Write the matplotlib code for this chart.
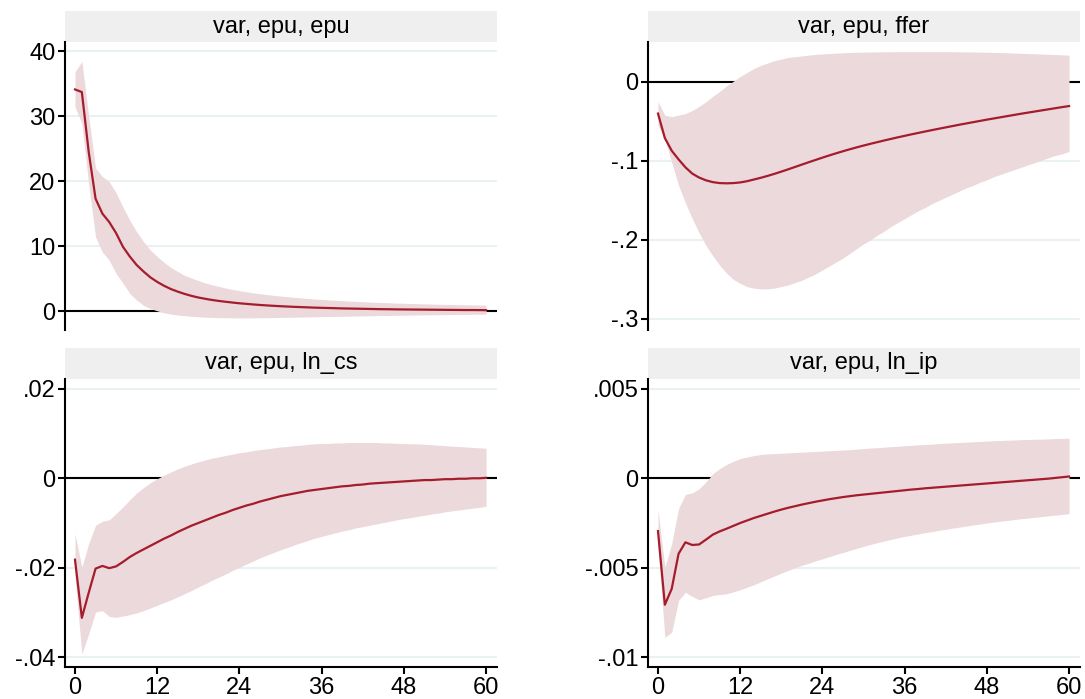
import matplotlib
matplotlib.use("Agg")
import matplotlib.pyplot as plt
import numpy as np

plt.rcParams['font.family'] = ['Liberation Sans', 'DejaVu Sans']

steps = np.arange(61)

# var, epu, epu
epu_irf = [34.1, 33.7, 24.5, 17.3, 15.0, 13.7, 12.0, 9.9, 8.4, 7.1,
           6.1, 5.2, 4.5, 3.9, 3.4, 3.0, 2.65, 2.35, 2.1, 1.9,
           1.72, 1.57, 1.44, 1.32, 1.21, 1.12, 1.03, 0.95, 0.88, 0.82,
           0.76, 0.71, 0.66, 0.62, 0.58, 0.54, 0.51, 0.48, 0.45, 0.42,
           0.40, 0.38, 0.36, 0.34, 0.32, 0.30, 0.29, 0.27, 0.26, 0.25,
           0.24, 0.23, 0.22, 0.21, 0.20, 0.19, 0.18, 0.17, 0.17, 0.16, 0.15]
epu_hi = [36.8, 38.4, 30.0, 22.0, 20.7, 19.9, 18.2, 16.0, 14.0, 12.2,
          10.7, 9.4, 8.4, 7.5, 6.7, 6.1, 5.5, 5.1, 4.7, 4.35,
          4.05, 3.8, 3.55, 3.35, 3.15, 2.98, 2.82, 2.68, 2.55, 2.43,
          2.32, 2.22, 2.12, 2.03, 1.95, 1.87, 1.80, 1.73, 1.67, 1.61,
          1.55, 1.50, 1.45, 1.40, 1.36, 1.32, 1.28, 1.24, 1.21, 1.18,
          1.15, 1.12, 1.09, 1.07, 1.04, 1.02, 1.00, 0.98, 0.96, 0.94, 0.92]
epu_lo = [31.4, 28.9, 19.5, 11.4, 9.1, 7.8, 5.8, 4.3, 2.7, 1.7,
          0.9, 0.4, 0.05, -0.25, -0.45, -0.6, -0.7, -0.8, -0.87, -0.93,
          -0.97, -1.0, -1.02, -1.03, -1.04, -1.04, -1.03, -1.02, -1.01, -0.99,
          -0.97, -0.95, -0.93, -0.91, -0.89, -0.87, -0.85, -0.83, -0.81, -0.79,
          -0.77, -0.75, -0.73, -0.71, -0.69, -0.67, -0.66, -0.64, -0.62, -0.61,
          -0.59, -0.58, -0.56, -0.55, -0.54, -0.52, -0.51, -0.50, -0.49, -0.48, -0.47]

# var, epu, ffer
ffer_irf = [-0.040, -0.071, -0.087, -0.098, -0.108, -0.116, -0.121, -0.1245, -0.1268, -0.1280,
            -0.1283, -0.1280, -0.1272, -0.1256, -0.1235, -0.1213, -0.1189, -0.1163, -0.1135, -0.1106,
            -0.1076, -0.1046, -0.1016, -0.0987, -0.0958, -0.0930, -0.0903, -0.0877, -0.0852, -0.0828,
            -0.0805, -0.0783, -0.0762, -0.0741, -0.0721, -0.0701, -0.0682, -0.0663, -0.0645, -0.0627,
            -0.0609, -0.0592, -0.0575, -0.0558, -0.0541, -0.0525, -0.0509, -0.0493, -0.0477, -0.0462,
            -0.0447, -0.0432, -0.0417, -0.0402, -0.0388, -0.0374, -0.0360, -0.0346, -0.0332, -0.0318, -0.0305]
ffer_hi = [-0.025, -0.042, -0.044, -0.042, -0.040, -0.036, -0.031, -0.025, -0.018, -0.012,
           -0.005, 0.001, 0.007, 0.012, 0.017, 0.021, 0.024, 0.027, 0.029, 0.031,
           0.032, 0.033, 0.034, 0.035, 0.0355, 0.036, 0.0365, 0.037, 0.0373, 0.0376,
           0.0378, 0.0380, 0.0381, 0.0382, 0.0383, 0.0383, 0.0384, 0.0384, 0.0384, 0.0384,
           0.0384, 0.0384, 0.0384, 0.0383, 0.0382, 0.0381, 0.0380, 0.0378, 0.0376, 0.0374,
           0.0372, 0.0369, 0.0366, 0.0363, 0.0360, 0.0357, 0.0354, 0.0350, 0.0347, 0.0343, 0.0340]
ffer_lo = [-0.055, -0.072, -0.102, -0.131, -0.153, -0.173, -0.191, -0.207, -0.220, -0.232,
           -0.242, -0.250, -0.255, -0.259, -0.261, -0.262, -0.262, -0.261, -0.259, -0.257,
           -0.254, -0.251, -0.247, -0.243, -0.238, -0.233, -0.228, -0.223, -0.217, -0.211,
           -0.205, -0.200, -0.194, -0.189, -0.183, -0.178, -0.173, -0.168, -0.163, -0.159,
           -0.154, -0.150, -0.146, -0.142, -0.138, -0.134, -0.131, -0.127, -0.124, -0.120,
           -0.117, -0.114, -0.111, -0.108, -0.105, -0.102, -0.099, -0.096, -0.093, -0.091, -0.088]

# var, epu, ln_cs
cs_irf = [-0.0182, -0.0312, -0.0256, -0.0202, -0.0196, -0.0201, -0.0197, -0.0187, -0.0176, -0.0167,
          -0.0159, -0.0151, -0.0143, -0.0135, -0.0128, -0.0120, -0.0113, -0.0106, -0.0100, -0.0094,
          -0.0088, -0.0082, -0.0077, -0.0071, -0.0066, -0.0061, -0.0057, -0.0052, -0.0048, -0.0044,
          -0.0040, -0.0037, -0.0034, -0.0031, -0.0028, -0.0026, -0.0024, -0.0022, -0.0020, -0.0018,
          -0.0017, -0.0015, -0.0014, -0.0012, -0.0011, -0.0010, -0.0009, -0.0008, -0.0007, -0.0006,
          -0.0005, -0.0004, -0.0004, -0.0003, -0.0002, -0.0002, -0.0001, -0.0001, 0.0000, 0.0000, 0.0001]
cs_hi = [-0.0124, -0.0199, -0.0146, -0.0105, -0.0096, -0.0093, -0.0079, -0.0064, -0.0048, -0.0033,
         -0.0021, -0.0010, -0.0001, 0.0007, 0.0014, 0.0021, 0.0027, 0.0032, 0.0037, 0.0041,
         0.0045, 0.0048, 0.0051, 0.0054, 0.0057, 0.0059, 0.0062, 0.0064, 0.0066, 0.0068,
         0.0070, 0.0071, 0.0073, 0.0074, 0.0076, 0.0077, 0.0078, 0.0078, 0.0079, 0.0079,
         0.0080, 0.0080, 0.0080, 0.0080, 0.0080, 0.0079, 0.0079, 0.0078, 0.0078, 0.0077,
         0.0077, 0.0076, 0.0075, 0.0074, 0.0073, 0.0072, 0.0071, 0.0070, 0.0069, 0.0068, 0.0067]
cs_lo = [-0.0221, -0.0393, -0.0348, -0.0299, -0.0296, -0.0309, -0.0311, -0.0308, -0.0305, -0.0301,
         -0.0296, -0.0290, -0.0284, -0.0278, -0.0272, -0.0265, -0.0258, -0.0251, -0.0243, -0.0236,
         -0.0228, -0.0221, -0.0214, -0.0206, -0.0199, -0.0192, -0.0185, -0.0178, -0.0172, -0.0166,
         -0.0160, -0.0155, -0.0149, -0.0144, -0.0139, -0.0134, -0.0130, -0.0126, -0.0122, -0.0118,
         -0.0115, -0.0111, -0.0108, -0.0105, -0.0102, -0.0099, -0.0096, -0.0093, -0.0090, -0.0088,
         -0.0085, -0.0083, -0.0080, -0.0078, -0.0075, -0.0073, -0.0071, -0.0069, -0.0067, -0.0065, -0.0063]

# var, epu, ln_ip
ip_irf = [-0.00295, -0.00707, -0.00618, -0.00422, -0.00358, -0.00373, -0.00370, -0.00343, -0.00315, -0.00297,
          -0.00282, -0.00266, -0.00250, -0.00236, -0.00222, -0.00210, -0.00198, -0.00186, -0.00175, -0.00165,
          -0.00156, -0.00147, -0.00139, -0.00131, -0.00124, -0.00117, -0.00111, -0.00105, -0.00100, -0.00095,
          -0.00091, -0.00087, -0.00083, -0.00079, -0.00075, -0.00071, -0.00067, -0.00063, -0.00060, -0.00056,
          -0.00053, -0.00050, -0.00047, -0.00044, -0.00041, -0.00038, -0.00035, -0.00032, -0.00029, -0.00026,
          -0.00023, -0.00020, -0.00017, -0.00014, -0.00011, -0.00008, -0.00005, -0.00002, 0.00002, 0.00006, 0.00010]
ip_hi = [-0.00175, -0.00497, -0.00366, -0.00170, -0.00090, -0.00082, -0.00058, -0.00021, 0.00026, 0.00054,
         0.00077, 0.00095, 0.00110, 0.00119, 0.00127, 0.00133, 0.00136, 0.00138, 0.00140, 0.00142,
         0.00144, 0.00146, 0.00148, 0.00150, 0.00152, 0.00154, 0.00156, 0.00158, 0.00160, 0.00163,
         0.00166, 0.00169, 0.00171, 0.00174, 0.00177, 0.00179, 0.00182, 0.00184, 0.00187, 0.00189,
         0.00191, 0.00194, 0.00196, 0.00198, 0.00200, 0.00202, 0.00204, 0.00206, 0.00208, 0.00210,
         0.00211, 0.00213, 0.00214, 0.00216, 0.00217, 0.00218, 0.00219, 0.00220, 0.00222, 0.00223, 0.00224]
ip_lo = [-0.00375, -0.00889, -0.00861, -0.00683, -0.00637, -0.00661, -0.00679, -0.00668, -0.00655, -0.00650,
         -0.00646, -0.00635, -0.00623, -0.00609, -0.00595, -0.00579, -0.00562, -0.00546, -0.00530, -0.00515,
         -0.00500, -0.00487, -0.00475, -0.00462, -0.00450, -0.00438, -0.00426, -0.00415, -0.00403, -0.00392,
         -0.00381, -0.00370, -0.00360, -0.00351, -0.00342, -0.00333, -0.00325, -0.00318, -0.00311, -0.00304,
         -0.00298, -0.00291, -0.00285, -0.00279, -0.00273, -0.00267, -0.00261, -0.00256, -0.00250, -0.00245,
         -0.00240, -0.00236, -0.00231, -0.00226, -0.00222, -0.00218, -0.00214, -0.00210, -0.00206, -0.00202, -0.00198]

titles = ['var, epu, epu', 'var, epu, ffer', 'var, epu, ln_cs', 'var, epu, ln_ip']
yticks = [[0, 10, 20, 30, 40], [-0.3, -0.2, -0.1, 0], [-0.04, -0.02, 0, 0.02], [-0.01, -0.005, 0, 0.005]]
ytick_labels = [['0', '10', '20', '30', '40'], ['-.3', '-.2', '-.1', '0'],
                ['-.04', '-.02', '0', '.02'], ['-.01', '-.005', '0', '.005']]
ylims = [(-2.9, 41.4), (-0.314, 0.0506), (-0.0422, 0.0222), (-0.01055, 0.00555)]
xticks = [0, 12, 24, 36, 48, 60]

series = [(epu_irf, epu_lo, epu_hi), (ffer_irf, ffer_lo, ffer_hi),
          (cs_irf, cs_lo, cs_hi), (ip_irf, ip_lo, ip_hi)]

LINE = '#a51c2c'
BAND = '#ecd9dc'
GRID = '#eaf1f3'
STRIP = '#efefef'

W, H = 1085, 699
fig = plt.figure(figsize=(W / 100, H / 100), dpi=100, facecolor='white')

# panel boxes in pixels: left, top of strip, width
lefts = [65, 648, 65, 648]
tops = [11, 11, 348, 348]
pw, strip_h, ph = 432, 31, 288

for i in range(4):
    x0, t0 = lefts[i], tops[i]
    # header strip
    sax = fig.add_axes([x0 / W, 1 - (t0 + strip_h) / H, pw / W, strip_h / H])
    sax.set_facecolor(STRIP)
    sax.set_xticks([])
    sax.set_yticks([])
    for s in sax.spines.values():
        s.set_visible(False)
    sax.text(0.5, 0.5, titles[i], ha='center', va='center', fontsize=17, transform=sax.transAxes)

    ax = fig.add_axes([x0 / W, 1 - (t0 + strip_h + ph) / H, pw / W, ph / H])
    irf, lo, hi = series[i]
    ax.axhline(0, color='black', lw=1.5, zorder=1)
    ax.fill_between(steps, lo, hi, color=BAND, lw=0, zorder=2)
    ax.plot(steps, irf, color=LINE, lw=1.6, zorder=3)

    ax.set_xlim(-1.46, 61.6)
    ax.set_ylim(*ylims[i])
    ax.set_yticks(yticks[i])
    ax.set_yticklabels(ytick_labels[i])
    ax.yaxis.grid(True, color=GRID, lw=1.5, zorder=0)
    ax.set_axisbelow(True)

    ax.spines['top'].set_visible(False)
    ax.spines['right'].set_visible(False)
    ax.spines['left'].set_linewidth(1.5)
    ax.tick_params(axis='y', length=5, width=1.5, labelsize=17, pad=2)
    if i < 2:
        ax.spines['bottom'].set_visible(False)
        ax.set_xticks([])
    else:
        ax.spines['bottom'].set_linewidth(1.5)
        ax.set_xticks(xticks)
        ax.tick_params(axis='x', length=5, width=1.5, labelsize=17, pad=2)

fig.savefig('out.png', dpi=100, facecolor='white')
